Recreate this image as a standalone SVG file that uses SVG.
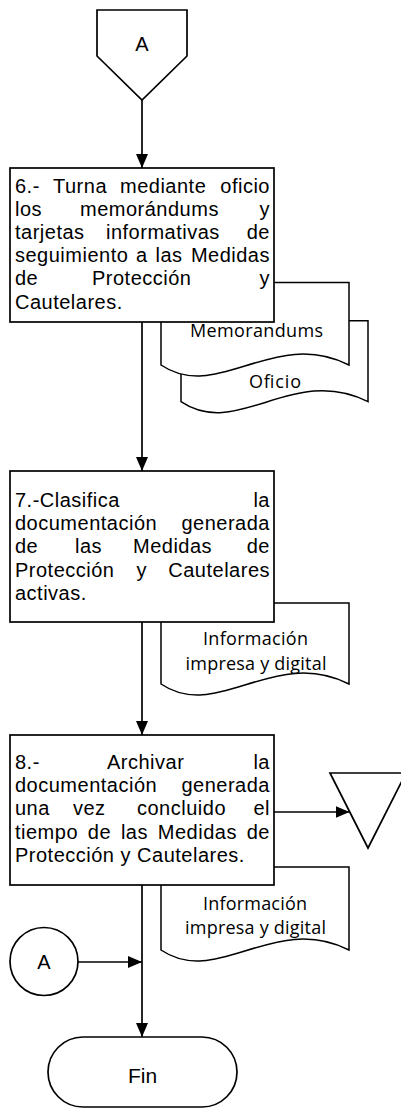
<svg xmlns="http://www.w3.org/2000/svg" width="401" height="1110" viewBox="0 0 401 1110">
<style>
.box{fill:#fff;stroke:#000;stroke-width:1.7}
.doc{fill:#fff;stroke:#000;stroke-width:1.5}
.t{font-family:"Liberation Sans",Arial,sans-serif;font-size:20px;letter-spacing:0.5px;fill:#000}
.e{text-anchor:end}
.m{font-family:"Liberation Sans",Arial,sans-serif;font-size:20px;text-anchor:middle;fill:#000}
.d{font-family:"Open Sans",Lato,sans-serif;font-size:18px;text-anchor:middle;fill:#000}
.c{fill:none;stroke:#000;stroke-width:1.7}
</style>
<defs>
<marker id="ah" markerUnits="userSpaceOnUse" markerWidth="14" markerHeight="12" refX="14" refY="6" orient="auto"><path d="M0,0 L14,6 L0,12 z" fill="#000"/></marker>
</defs>

<g id="connectors">
<path class="c" d="M142,100 V168" marker-end="url(#ah)"/>
<path class="c" d="M142,322 V471" marker-end="url(#ah)"/>
<path class="c" d="M142,622 V735" marker-end="url(#ah)"/>
<path class="c" d="M142,885 V1037" marker-end="url(#ah)"/>
<path class="c" d="M274,812 H349.5" marker-end="url(#ah)"/>
<path class="c" d="M78,962 H142" marker-end="url(#ah)"/>
</g>

<g id="offpage-A">
<polygon class="box" points="97,10 187,10 187,56 142,100 97,56"/>
<text class="m" x="142" y="51">A</text>
</g>

<g id="doc-oficio">
<path class="doc" d="M181,320.7 H368 V401.7 C293.2,363.7 237.1,439.7 181,401.7 Z"/>
<text class="d" x="275" y="388" textLength="52" lengthAdjust="spacing">Oficio</text>
</g>
<g id="doc-memorandums">
<path class="doc" d="M161,282.5 H349 V365 C273.8,327 217.4,403 161,365 Z"/>
<text class="d" x="256.5" y="336.5" textLength="133" lengthAdjust="spacing">Memorandums</text>
</g>

<g id="step6">
<rect class="box" x="10" y="168" width="264" height="154"/>
<text class="t" x="15" y="192.5">6.-</text>
<text class="t" x="53" y="192.5">Turna</text>
<text class="t" x="120" y="192.5">mediante</text>
<text class="t e" x="270" y="192.5">oficio</text>
<text class="t" x="15" y="215.7">los</text>
<text class="t" x="80" y="215.7">memorándums</text>
<text class="t e" x="270" y="215.7">y</text>
<text class="t" x="15" y="238.9">tarjetas</text>
<text class="t" x="106" y="238.9">informativas</text>
<text class="t e" x="270" y="238.9">de</text>
<text class="t" x="15" y="262.1">seguimiento</text>
<text class="t" x="136" y="262.1">a</text>
<text class="t" x="155.5" y="262.1">las</text>
<text class="t e" x="270" y="262.1">Medidas</text>
<text class="t" x="15" y="285.3">de</text>
<text class="t" x="92" y="285.3">Protección</text>
<text class="t e" x="270" y="285.3">y</text>
<text class="t" x="15" y="308.5">Cautelares.</text>
</g>

<g id="doc-info7">
<path class="doc" d="M161,603 H349 V684 C273.8,646 217.4,722 161,684 Z"/>
<text class="d" x="255.5" y="645" textLength="105" lengthAdjust="spacing">Información</text>
<text class="d" x="256" y="669.5" textLength="141" lengthAdjust="spacing">impresa y digital</text>
</g>

<g id="step7">
<rect class="box" x="10" y="471" width="264" height="151"/>
<text class="t" x="15" y="506.7">7.-Clasifica</text>
<text class="t e" x="270" y="506.7">la</text>
<text class="t" x="15" y="530">documentación</text>
<text class="t e" x="270" y="530">generada</text>
<text class="t" x="15" y="553.3">de</text>
<text class="t" x="75" y="553.3">las</text>
<text class="t" x="133" y="553.3">Medidas</text>
<text class="t e" x="270" y="553.3">de</text>
<text class="t" x="15" y="576.6">Protección</text>
<text class="t" x="136.5" y="576.6">y</text>
<text class="t e" x="270" y="576.6">Cautelares</text>
<text class="t" x="15" y="599.9">activas.</text>
</g>

<g id="doc-info8">
<path class="doc" d="M161,867 H349 V950 C273.8,912 217.4,988 161,950 Z"/>
<text class="d" x="255" y="909.5" textLength="104" lengthAdjust="spacing">Información</text>
<text class="d" x="255.5" y="933.5" textLength="141" lengthAdjust="spacing">impresa y digital</text>
</g>

<g id="step8">
<rect class="box" x="10" y="735" width="264" height="150"/>
<text class="t" x="15" y="769">8.-</text>
<text class="t" x="107" y="769">Archivar</text>
<text class="t e" x="270" y="769">la</text>
<text class="t" x="15" y="792.2">documentación</text>
<text class="t e" x="270" y="792.2">generada</text>
<text class="t" x="15" y="815.4">una</text>
<text class="t" x="73" y="815.4">vez</text>
<text class="t" x="137" y="815.4">concluido</text>
<text class="t e" x="270" y="815.4">el</text>
<text class="t" x="15" y="838.6">tiempo</text>
<text class="t" x="87.8" y="838.6">de</text>
<text class="t" x="120.9" y="838.6">las</text>
<text class="t" x="157.8" y="838.6">Medidas</text>
<text class="t e" x="270" y="838.6">de</text>
<text class="t" x="15" y="861.8">Protección y Cautelares.</text>
</g>

<g id="archive">
<polygon class="box" points="330,773 406,773 368,848"/>
</g>

<g id="connector-A">
<circle class="box" cx="44" cy="961.5" r="34"/>
<text class="m" x="44" y="969">A</text>
</g>

<g id="fin">
<rect class="box" x="48" y="1037" width="189" height="70" rx="35" ry="35"/>
<text class="m" x="142.5" y="1083" style="font-size:21px">Fin</text>
</g>
</svg>
